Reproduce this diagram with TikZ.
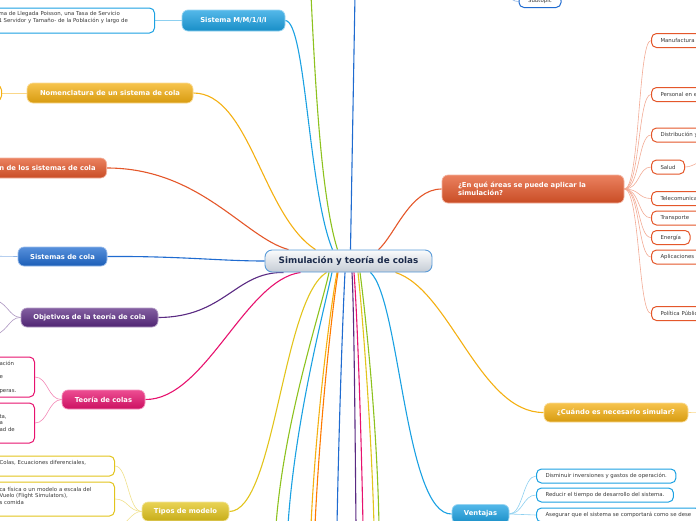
\documentclass[tikz,border=0pt]{standalone}
\usepackage{fontspec}
\setmainfont{DejaVu Sans}
\usetikzlibrary{backgrounds}
\definecolor{skyline}{HTML}{1BA1E2}
\definecolor{amber}{HTML}{F4B012}
\definecolor{flame}{HTML}{E4572A}
\definecolor{royal}{HTML}{1F6BD0}
\definecolor{plum}{HTML}{5A2A82}
\definecolor{rose}{HTML}{E7126E}
\definecolor{mustard}{HTML}{E2C41C}
\definecolor{leafgreen}{HTML}{8DC21F}
\definecolor{tangerine}{HTML}{FF7A00}
\definecolor{rootline}{HTML}{5A9BD8}
\definecolor{rootlight}{HTML}{FAFBFC}
\definecolor{rootdark}{HTML}{C5CCD5}
\definecolor{rootink}{HTML}{1B2A4A}
\definecolor{leafink}{HTML}{3A3A3A}
\newcommand{\rootfont}{\fontsize{8.8}{10}\selectfont\bfseries}
\newcommand{\topicfont}{\fontsize{6.8}{8}\selectfont\bfseries}
\newcommand{\leaffont}{\fontsize{5.4}{6.7}\selectfont}
\tikzset{
  root/.style={
    draw=rootline,
    line width=0.9pt,
    rounded corners=7pt,
    top color=rootlight,
    bottom color=rootdark,
    minimum width=167pt,
    minimum height=22pt,
    text=rootink,
    font=\rootfont
  },
  topic/.style={
    draw=#1!45!white,
    line width=0.7pt,
    rounded corners=6pt,
    top color=#1!75!white,
    bottom color=#1!88!black,
    minimum height=19pt,
    inner xsep=8pt,
    text=white,
    font=\topicfont
  },
  leaf/.style={
    draw=#1,
    line width=1pt,
    fill=white,
    rounded corners=5pt,
    minimum height=14pt,
    inner xsep=9pt,
    inner ysep=2pt,
    align=left,
    text=leafink,
    font=\leaffont
  },
  link/.style={draw=#1,line width=1.1pt},
  twig/.style={draw=#1!50!white,line width=0.6pt}
}
\begin{document}
\begin{tikzpicture}[x=1pt,y=-1pt]
  \useasboundingbox (0,0) rectangle (696,520);
  \clip (0,0) rectangle (696,520);

  % central topic
  \node[root] (root) at (348.5,261) {Simulación y teoría de colas};

  % left branches
  \node[topic=skyline, minimum width=103pt, minimum height=21pt] (mm1) at (233.5,20.5) {Sistema M/M/1/I/I};
  \node[leaf=skyline, anchor=east, text width=150pt, minimum height=25pt, inner xsep=6pt] (mm1def) at (155,20.5)
    {ma de Llegada Poisson, una Tasa de Servicio\\1 Servidor y Tamaño- de la Población y largo de\\.};
  \node[topic=amber, minimum width=166pt, minimum height=20pt] (nom) at (110,93) {Nomenclatura de un sistema de cola};
  \node[leaf=amber, anchor=east, minimum width=40pt, minimum height=16pt] (nomdef) at (2,93) {};
  \node[topic=flame, anchor=east, inner xsep=11pt, minimum height=20pt] (clas) at (107,168) {n de los sistemas de cola};
  \node[topic=royal, minimum width=89pt] (sysq) at (62.5,256.5) {Sistemas de cola};
  \node[topic=plum, minimum width=137pt] (obj) at (89.5,317.5) {Objetivos de la teoría de cola};
  \node[topic=rose, minimum width=83pt] (teo) at (103.5,399.5) {Teoría de colas};
  \node[leaf=rose, anchor=east, text width=29pt, minimum height=40pt, inner xsep=6pt] (teoa) at (35,377)
    {ación\\\phantom{x}\\e\\\phantom{x}\\peras.};
  \node[leaf=rose, anchor=east, text width=29pt, minimum height=40pt, inner xsep=6pt] (teob) at (35,423)
    {ta,\\a\\ad de};
  \node[topic=mustard, minimum width=87pt] (tipos) at (185.5,511.5) {Tipos de modelo};
  \node[leaf=mustard, anchor=east, text width=109pt, minimum height=20pt, inner xsep=6pt] (tiposa) at (115,466)
    {Colas, Ecuaciones diferenciales,\\\phantom{x}};
  \node[leaf=mustard, anchor=east, text width=109pt, minimum height=34pt, inner xsep=6pt] (tiposb) at (115,499)
    {ca física o un modelo a escala del\\Vuelo (Flight Simulators),\\s comida\\\phantom{x}};

  % right branches
  \node[topic=flame, minimum width=182pt, minimum height=28pt, text width=150pt, align=left] (areas) at (533,189)
    {¿En qué áreas se puede aplicar la\\simulación?};
  \node[leaf=flame, anchor=west, text width=70pt] (manu) at (651,40.5) {Manufactura};
  \node[leaf=flame, anchor=west, text width=70pt] (pers) at (651,94.5) {Personal en e};
  \node[leaf=flame, anchor=west, text width=70pt] (dist) at (651,135) {Distribución y};
  \node[leaf=flame, anchor=west] (salud) at (651,167) {Salud};
  \node[leaf=flame, anchor=west, text width=70pt] (tele) at (651,198.5) {Telecomunica};
  \node[leaf=flame, anchor=west, text width=70pt] (trans) at (651,218) {Transporte};
  \node[leaf=flame, anchor=west] (ener) at (651,237.5) {Energía};
  \node[leaf=flame, anchor=west, text width=70pt] (apli) at (651,257) {Aplicaciones};
  \node[leaf=flame, anchor=west, text width=70pt] (poli) at (651,313.5) {Política Públic};
  \node[topic=amber, minimum width=144pt] (cuando) at (616,412.5) {¿Cuándo es necesario simular?};
  \node[topic=skyline, minimum width=57pt] (vent) at (480.5,514) {Ventajas};
  \node[leaf=skyline, anchor=west] (venta) at (536,476) {Disminuir inversiones y gastos de operación.};
  \node[leaf=skyline, anchor=west] (ventb) at (536,495) {Reducir el tiempo de desarrollo del sistema.};
  \node[leaf=skyline, anchor=west] (ventc) at (536,515) {Asegurar que el sistema se comportará como se dese};
  \node[leaf=royal, minimum width=42pt, minimum height=12pt] (sub) at (540,1.5) {Subtopic};

  % ends that lie outside the picture
  \coordinate (greenup) at (311,-5);
  \coordinate (blueup) at (355,-5);
  \coordinate (sysqout) at (-20,256);
  \coordinate (objouta) at (-12,298);
  \coordinate (objoutb) at (-12,337);
  \coordinate (tiposout) at (110,540);
  \coordinate (saludout) at (715,158);
  \coordinate (cuandoout) at (720,413);
  \coordinate (subout) at (495,-12);
  \coordinate (fana) at (276,525);
  \coordinate (fanb) at (288,525);
  \coordinate (fanc) at (311,525);
  \coordinate (fand) at (315,525);
  \coordinate (fane) at (337,525);
  \coordinate (fanf) at (356,525);
  \coordinate (fang) at (363,525);
  \coordinate (fanh) at (374,525);
  \coordinate (fani) at (379,525);

  \begin{scope}[on background layer]
    \clip (0,0) rectangle (696,520);
    % main connectors
    \draw[link=skyline] (mm1.east) .. controls (306,22) and (308,190) .. ([xshift=-16pt]root.north);
    \draw[link=leafgreen] (greenup) .. controls (316,100) and (322,200) .. ([xshift=-11pt]root.north);
    \draw[link=royal] (blueup) -- ([xshift=2pt]root.north);
    \draw[link=amber] (nom.east) .. controls (250,93) and (262,215) .. ([xshift=-33pt]root.north);
    \draw[link=flame] (clas.east) .. controls (200,168) and (245,238) .. ([xshift=-60pt]root.north);
    \draw[link=royal] (sysq.east) .. controls (180,256) and (220,261) .. (root.west);
    \draw[link=plum] (obj.east) .. controls (225,317) and (235,272) .. ([xshift=-65pt]root.south);
    \draw[link=rose] (teo.east) .. controls (205,400) and (245,280) .. ([xshift=-48pt]root.south);
    \draw[link=mustard] (tipos.east) .. controls (275,511) and (282,300) .. ([xshift=-22pt]root.south);
    \draw[link=flame] (areas.west) .. controls (410,189) and (395,235) .. ([xshift=30pt]root.north);
    \draw[link=amber] (cuando.west) .. controls (480,413) and (450,290) .. ([xshift=47pt]root.south);
    \draw[link=skyline] (vent.west) .. controls (405,515) and (400,300) .. ([xshift=22pt]root.south);
    % branches leaving at the bottom
    \draw[link=leafgreen] ([xshift=-19.5pt]root.south) .. controls (321,310) and (284,420) .. (fana);
    \draw[link=skyline] ([xshift=-16.5pt]root.south) .. controls (324,310) and (295,420) .. (fanb);
    \draw[link=amber] ([xshift=-11.5pt]root.south) .. controls (330,310) and (316,420) .. (fanc);
    \draw[link=tangerine] ([xshift=-10.5pt]root.south) .. controls (332,310) and (320,420) .. (fand);
    \draw[link=royal] ([xshift=-3.5pt]root.south) .. controls (343,310) and (339,420) .. (fane);
    \draw[link=plum] ([xshift=3.5pt]root.south) .. controls (354,310) and (355,420) .. (fanf);
    \draw[link=rose] ([xshift=5.5pt]root.south) .. controls (357,310) and (361,420) .. (fang);
    \draw[link=mustard] ([xshift=9.5pt]root.south) .. controls (362,310) and (371,420) .. (fanh);
    \draw[link=leafgreen] ([xshift=11.5pt]root.south) .. controls (365,310) and (377,420) .. (fani);
    % links to subtopics
    \draw[twig=skyline] (mm1.west) -- (mm1def.east);
    \draw[twig=amber] (nom.west) -- (nomdef.east);
    \draw[twig=royal] (sysq.west) -- (sysqout);
    \draw[twig=plum] (obj.west) .. controls (8,317) and (8,300) .. (objouta);
    \draw[twig=plum] (obj.west) .. controls (8,317) and (8,335) .. (objoutb);
    \draw[twig=rose] (teo.west) .. controls (48,400) and (48,377) .. (teoa.east);
    \draw[twig=rose] (teo.west) .. controls (48,400) and (48,423) .. (teob.east);
    \draw[twig=mustard] (tipos.west) .. controls (128,511) and (128,466) .. (tiposa.east);
    \draw[twig=mustard] (tipos.west) .. controls (128,511) and (128,499) .. (tiposb.east);
    \draw[twig=mustard] (tipos.west) .. controls (132,511) and (125,525) .. (tiposout);
    \draw[twig=flame] (areas.east) .. controls (640,189) and (638,40.5) .. (manu.west);
    \draw[twig=flame] (areas.east) .. controls (640,189) and (638,94.5) .. (pers.west);
    \draw[twig=flame] (areas.east) .. controls (640,189) and (638,135) .. (dist.west);
    \draw[twig=flame] (areas.east) .. controls (640,189) and (638,167) .. (salud.west);
    \draw[twig=flame] (areas.east) .. controls (640,189) and (638,198.5) .. (tele.west);
    \draw[twig=flame] (areas.east) .. controls (640,189) and (638,218) .. (trans.west);
    \draw[twig=flame] (areas.east) .. controls (640,189) and (638,237.5) .. (ener.west);
    \draw[twig=flame] (areas.east) .. controls (640,189) and (638,257) .. (apli.west);
    \draw[twig=flame] (areas.east) .. controls (640,189) and (638,313.5) .. (poli.west);
    \draw[twig=flame] (salud.east) .. controls (695,167) and (700,158) .. (saludout);
    \draw[twig=amber] (cuando.east) -- (cuandoout);
    \draw[twig=skyline] (vent.east) .. controls (523,514) and (523,476) .. (venta.west);
    \draw[twig=skyline] (vent.east) .. controls (523,514) and (523,495) .. (ventb.west);
    \draw[twig=skyline] (vent.east) .. controls (523,514) and (523,515) .. (ventc.west);
    \draw[twig=royal] (subout) .. controls (510,-10) and (508,1.5) .. (sub.west);
  \end{scope}
\end{tikzpicture}
\end{document}
